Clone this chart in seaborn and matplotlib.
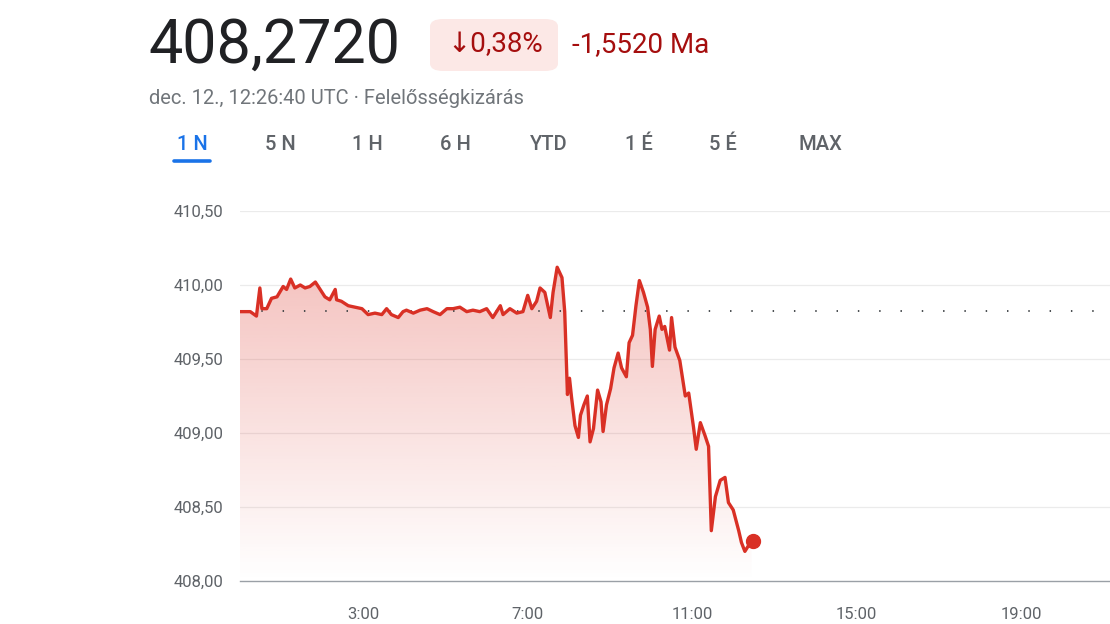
import numpy as np
import pandas as pd
import matplotlib
matplotlib.use("Agg")
import matplotlib.pyplot as plt
from matplotlib.patches import FancyBboxPatch
import seaborn as sns

# intraday trace: minutes since midnight, price
minutes = [0, 15, 24, 29, 32, 39, 46, 54, 63, 68, 74, 80, 88, 95, 102, 110, 117,
           124, 131, 139, 141, 148, 158, 168, 178, 187, 197, 207, 214, 221, 231,
           238, 243, 253, 263, 273, 282, 292, 302, 311, 321, 331, 340, 350, 360,
           369, 380, 384, 394, 404, 413, 420, 426, 433, 438, 445, 453, 457, 463,
           470, 474, 478, 481, 484, 489, 494, 497, 502, 507, 511, 516, 522, 527,
           530, 535, 541, 546, 552, 557, 564, 568, 573, 578, 583, 589, 595, 599,
           602, 606, 612, 616, 620, 627, 630, 635, 642, 650, 655, 662, 666, 672,
           679, 684, 688, 694, 701, 708, 713, 720, 728, 732, 737, 746.7]
prices = [409.82, 409.82, 409.79, 409.98, 409.84, 409.84, 409.91, 409.92, 409.99,
          409.97, 410.04, 409.98, 410.00, 409.98, 409.99, 410.02, 409.97, 409.92,
          409.90, 409.97, 409.90, 409.89, 409.86, 409.85, 409.84, 409.80, 409.81,
          409.80, 409.84, 409.80, 409.78, 409.82, 409.83, 409.81, 409.83, 409.84,
          409.82, 409.80, 409.84, 409.84, 409.85, 409.82, 409.83, 409.82, 409.84,
          409.78, 409.86, 409.80, 409.84, 409.81, 409.82, 409.93, 409.84, 409.89,
          409.98, 409.95, 409.78, 409.95, 410.12, 410.05, 409.82, 409.26, 409.37,
          409.24, 409.05, 408.97, 409.12, 409.19, 409.25, 408.94, 409.03, 409.29,
          409.21, 409.01, 409.19, 409.30, 409.44, 409.54, 409.44, 409.38, 409.61,
          409.66, 409.86, 410.03, 409.95, 409.85, 409.70, 409.45, 409.70, 409.79,
          409.70, 409.72, 409.56, 409.78, 409.58, 409.49, 409.25, 409.27, 409.04,
          408.89, 409.07, 408.98, 408.91, 408.34, 408.57, 408.68, 408.70, 408.53,
          408.48, 408.34, 408.26, 408.20, 408.272]

prev_close = 409.824
y_ticks = [408.0, 408.5, 409.0, 409.5, 410.0, 410.5]
x_ticks = [180, 420, 660, 900, 1140]
x_labels = ["3:00", "7:00", "11:00", "15:00", "19:00"]
tabs = ["1 N", "5 N", "1 H", "6 H", "YTD", "1 É", "5 É", "MAX"]
tab_x = [192, 280, 367, 455, 549, 639, 723, 820]

RED = "#d93025"
GREY = "#5f6368"

df = pd.DataFrame({"minute": minutes, "price": prices})

sns.set_style("white")
plt.rcParams["font.family"] = ["Roboto", "DejaVu Sans"]

W, H = 1110, 624
fig = plt.figure(figsize=(W / 100, H / 100), dpi=100)
ax = fig.add_axes([240 / W, 1 - 581 / H, 1 - 240 / W, (581 - 211) / H])

xmax = 1270
ax.set_xlim(0, xmax)
ax.set_ylim(408.0, 410.5)

# gridlines
for v in y_ticks[1:]:
    ax.axhline(v, color="#ebebeb", lw=0.9, zorder=0)

# gradient fill under the line
grad = np.zeros((256, 1, 4))
r, g, b = matplotlib.colors.to_rgb("#e04a40")
grad[:, 0, 0], grad[:, 0, 1], grad[:, 0, 2] = r, g, b
grad[:, 0, 3] = np.linspace(0.34, 0.0, 256)
img = ax.imshow(grad, extent=(0, xmax, 408.0, 410.15), aspect="auto",
                origin="upper", zorder=1)
poly = ax.fill_between(df["minute"], df["price"], 408.0, color="none", lw=0)
clip = poly.get_paths()[0]
img.set_clip_path(clip, transform=ax.transData)

# previous close
ax.axhline(prev_close, color="#3c4043", lw=1.3, ls=(0, (0.8, 11)), zorder=2)

sns.lineplot(data=df, x="minute", y="price", ax=ax, color=RED, lw=2.4,
             zorder=3, legend=False)
ax.plot(df["minute"].iloc[-1] + 2, df["price"].iloc[-1], "o", color=RED,
        ms=10, zorder=4)

sns.despine(ax=ax, left=True, right=True, top=True)
ax.spines["bottom"].set_color("#9aa0a6")
ax.spines["bottom"].set_linewidth(1.0)
ax.set_xticks(x_ticks)
ax.set_xticklabels(x_labels)
ax.set_yticks(y_ticks)
ax.set_yticklabels([f"{v:.2f}".replace(".", ",") for v in y_ticks])
ax.tick_params(axis="x", length=6, width=1.2, color="#80868b", pad=13,
               labelsize=12, labelcolor=GREY)
ax.tick_params(axis="y", length=0, pad=12, labelsize=12, labelcolor=GREY)
ax.set_xlabel("")
ax.set_ylabel("")

# header
fig.text(148 / W, 1 - 46 / H, "408,2720", fontsize=44, color="#202124",
         va="center", ha="left")
badge = FancyBboxPatch((430 / W, 1 - 71 / H), 128 / W, 52 / H,
                       boxstyle="round,pad=0,rounding_size=0.012",
                       transform=fig.transFigure, fc="#fce8e6", ec="none")
fig.patches.append(badge)
fig.text(495 / W, 1 - 45 / H, "↓0,38%", fontsize=20, color="#a50e0e",
         va="center", ha="center")
fig.text(572 / W, 1 - 45 / H, "-1,5520 Ma", fontsize=20, color="#a50e0e",
         va="center", ha="left")
fig.text(149 / W, 1 - 98 / H, "dec. 12., 12:26:40 UTC · Felelősségkizárás",
         fontsize=14.5, color="#70757a", va="center", ha="left")
for i, (t, tx) in enumerate(zip(tabs, tab_x)):
    fig.text(tx / W, 1 - 144 / H, t, fontsize=14.5, fontweight="medium",
             color="#1a73e8" if i == 0 else GREY, va="center", ha="center")
fig.add_artist(plt.Line2D([174 / W, 210 / W], [1 - 161 / H, 1 - 161 / H],
                          color="#1a73e8", lw=2.6, solid_capstyle="round"))

fig.savefig("out.png", dpi=100, facecolor="white")
